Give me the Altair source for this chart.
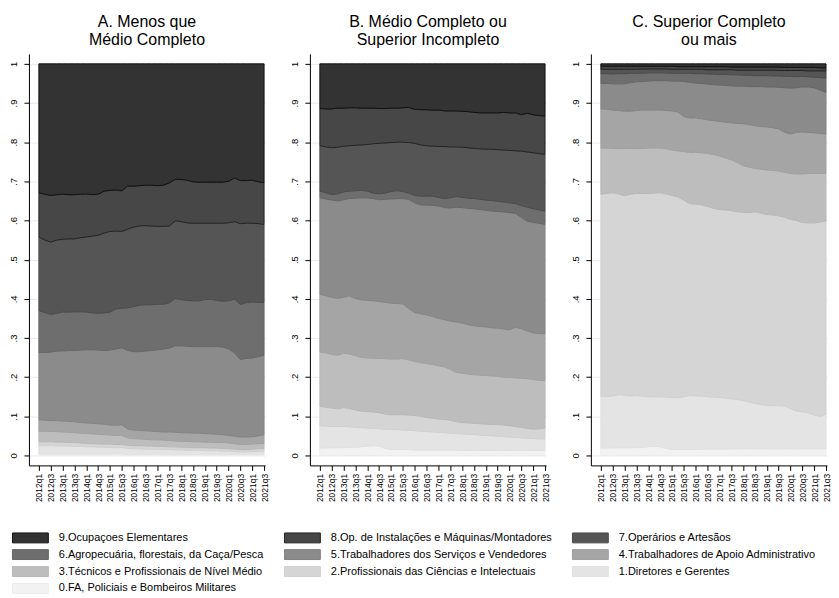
import altair as alt
import pandas as pd

quarters = ["2012q1","2012q2","2012q3","2012q4","2013q1","2013q2","2013q3","2013q4",
            "2014q1","2014q2","2014q3","2014q4","2015q1","2015q2","2015q3","2015q4",
            "2016q1","2016q2","2016q3","2016q4","2017q1","2017q2","2017q3","2017q4",
            "2018q1","2018q2","2018q3","2018q4","2019q1","2019q2","2019q3","2019q4",
            "2020q1","2020q2","2020q3","2020q4","2021q1","2021q2","2021q3"]
tick_index = [0, 2, 4, 6, 8, 10, 12, 14, 16, 18, 20, 22, 24, 26, 28, 30, 32, 34, 36, 38]

cats = ["0.FA, Policiais e Bombeiros Militares",
        "1.Diretores e Gerentes",
        "2.Profissionais das Ciências e Intelectuais",
        "3.Técnicos e Profissionais de Nível Médio",
        "4.Trabalhadores de Apoio Administrativo",
        "5.Trabalhadores dos Serviços e Vendedores",
        "6.Agropecuária, florestais, da Caça/Pesca",
        "7.Operários e Artesãos",
        "8.Op. de Instalações e Máquinas/Montadores",
        "9.Ocupaçoes Elementares"]

titles = ["A. Menos que|Médio Completo",
          "B. Médio Completo ou|Superior Incompleto",
          "C. Superior Completo|ou mais"]

# upper boundary (cumulative share) of each category, categories 0..8 (9 tops at 1)
top0_A = [.004,.004,.004,.004,.004,.004,.004,.004,.004,.004,.004,.004,.004,.004,.004,.003,.003,.003,.003,.003,
          .003,.003,.003,.003,.003,.003,.003,.003,.003,.003,.003,.003,.003,.003,.003,.003,.003,.003,.003]
top1_A = [.025,.025,.025,.024,.024,.024,.023,.023,.022,.022,.021,.021,.020,.020,.020,.018,.017,.017,.016,.016,
          .015,.015,.015,.014,.014,.013,.013,.013,.012,.012,.012,.011,.011,.010,.009,.009,.010,.010,.011]
top2_A = [.035,.035,.035,.034,.034,.033,.033,.032,.031,.030,.030,.029,.029,.028,.028,.026,.025,.025,.024,.024,
          .023,.023,.022,.022,.021,.021,.020,.020,.020,.019,.019,.018,.017,.016,.015,.015,.016,.017,.018]
top3_A = [.062,.062,.061,.061,.060,.059,.058,.057,.056,.055,.054,.053,.052,.051,.051,.045,.043,.042,.041,.040,
          .040,.039,.038,.037,.036,.036,.035,.035,.034,.034,.033,.033,.032,.030,.028,.028,.029,.030,.031]
top4_A = [.091,.090,.089,.089,.088,.087,.086,.084,.083,.082,.081,.080,.078,.077,.078,.067,.065,.064,.063,.062,
          .061,.060,.060,.059,.058,.058,.057,.057,.056,.055,.054,.053,.051,.049,.047,.047,.048,.050,.053]
top5_A = [.263,.263,.264,.266,.267,.268,.268,.269,.270,.270,.269,.268,.269,.272,.275,.268,.265,.265,.267,.268,
          .270,.272,.274,.280,.280,.279,.278,.278,.278,.278,.278,.277,.272,.262,.245,.248,.249,.252,.256]
top6_A = [.370,.365,.360,.363,.366,.366,.367,.367,.366,.364,.363,.364,.366,.374,.376,.377,.380,.384,.385,.385,
          .386,.386,.390,.401,.398,.396,.395,.395,.398,.399,.396,.394,.395,.399,.386,.390,.392,.391,.391]
top7_A = [.558,.550,.545,.550,.552,.553,.553,.556,.558,.560,.562,.568,.572,.573,.572,.578,.583,.586,.587,.586,
          .585,.585,.586,.599,.597,.594,.593,.593,.593,.593,.593,.593,.594,.597,.592,.593,.593,.592,.590]
top8_A = [.671,.667,.664,.666,.667,.666,.666,.667,.668,.666,.667,.675,.677,.678,.676,.688,.688,.689,.690,.690,
          .689,.690,.696,.705,.705,.703,.699,.698,.698,.698,.698,.698,.700,.709,.702,.702,.703,.699,.697]

top0_B = [.019,.019,.020,.020,.020,.021,.021,.022,.023,.025,.024,.018,.015,.015,.015,.015,.014,.014,.014,.014,
          .014,.014,.014,.013,.013,.013,.013,.013,.013,.013,.013,.013,.013,.013,.013,.013,.013,.013,.013]
top1_B = [.076,.075,.074,.074,.074,.073,.072,.071,.070,.069,.068,.067,.066,.066,.065,.064,.063,.062,.061,.060,
          .059,.058,.057,.056,.055,.054,.053,.052,.051,.050,.049,.048,.047,.046,.045,.044,.043,.042,.042]
top2_B = [.125,.123,.121,.119,.122,.120,.116,.113,.112,.111,.109,.106,.104,.104,.104,.103,.102,.100,.097,.095,
          .093,.092,.090,.086,.084,.083,.082,.081,.080,.079,.079,.078,.076,.074,.072,.069,.067,.068,.070]
top3_B = [.264,.262,.258,.256,.261,.259,.255,.250,.249,.248,.248,.247,.246,.246,.247,.244,.240,.237,.235,.232,
          .229,.226,.220,.212,.210,.208,.206,.205,.204,.203,.202,.200,.199,.198,.197,.196,.194,.192,.191]
top4_B = [.411,.408,.404,.401,.404,.407,.401,.397,.396,.395,.393,.391,.389,.388,.387,.375,.365,.362,.359,.355,
          .350,.347,.343,.341,.338,.334,.331,.329,.328,.326,.325,.323,.321,.327,.324,.318,.313,.311,.311]
top5_B = [.658,.655,.652,.650,.653,.656,.657,.658,.658,.656,.653,.654,.655,.656,.656,.654,.645,.640,.639,.639,
          .637,.633,.632,.634,.633,.631,.630,.628,.626,.624,.623,.622,.620,.618,.608,.598,.595,.593,.590]
top6_B = [.675,.671,.666,.668,.673,.675,.676,.677,.675,.670,.668,.670,.674,.676,.674,.670,.664,.662,.662,.662,
          .659,.656,.658,.661,.659,.657,.656,.654,.652,.651,.649,.647,.645,.643,.638,.634,.630,.627,.624]
top7_B = [.791,.788,.786,.787,.790,.791,.792,.793,.794,.796,.797,.798,.799,.800,.800,.799,.797,.793,.791,.790,
          .789,.789,.788,.788,.787,.786,.784,.783,.782,.782,.781,.780,.779,.778,.777,.775,.773,.771,.769]
top8_B = [.886,.885,.885,.887,.887,.888,.888,.887,.887,.887,.886,.886,.887,.887,.888,.889,.884,.883,.883,.882,
          .882,.880,.880,.880,.879,.878,.876,.875,.875,.875,.875,.876,.875,.875,.870,.874,.870,.868,.867]

top0_C = [.019,.019,.019,.020,.020,.020,.020,.021,.022,.023,.022,.018,.015,.015,.015,.015,.015,.016,.016,.016,
          .016,.016,.017,.017,.017,.017,.017,.017,.017,.017,.017,.017,.017,.017,.017,.017,.017,.017,.017]
top1_C = [.151,.150,.152,.155,.154,.152,.153,.151,.150,.150,.150,.149,.148,.147,.150,.153,.152,.151,.150,.149,
          .148,.147,.144,.143,.140,.137,.133,.130,.128,.127,.127,.126,.120,.113,.111,.109,.103,.100,.105]
top2_C = [.667,.669,.671,.668,.663,.667,.669,.669,.669,.670,.671,.668,.664,.660,.652,.643,.642,.640,.636,.631,
          .628,.627,.625,.622,.621,.620,.622,.619,.615,.614,.612,.608,.603,.600,.595,.594,.594,.596,.599]
top3_C = [.785,.785,.784,.784,.784,.784,.784,.784,.785,.785,.785,.783,.780,.778,.776,.774,.774,.773,.771,.768,
          .765,.760,.755,.748,.740,.736,.733,.731,.729,.728,.726,.723,.720,.719,.719,.720,.720,.720,.720]
top4_C = [.885,.884,.882,.881,.879,.879,.881,.882,.882,.882,.882,.881,.880,.877,.865,.862,.862,.860,.857,.855,
          .853,.851,.849,.848,.847,.845,.842,.840,.839,.837,.834,.825,.821,.825,.826,.825,.824,.822,.821]
top5_C = [.950,.950,.949,.949,.949,.952,.954,.955,.956,.957,.957,.957,.956,.956,.955,.953,.951,.950,.948,.947,
          .946,.945,.944,.943,.943,.942,.942,.942,.941,.941,.940,.939,.938,.939,.941,.941,.939,.933,.927]
top6_C = [.975,.975,.974,.975,.975,.976,.976,.976,.977,.977,.977,.977,.976,.976,.976,.976,.975,.975,.974,.974,
          .973,.973,.972,.972,.971,.971,.970,.970,.970,.969,.969,.968,.968,.967,.968,.967,.966,.965,.964]
top7_C = [.986,.986,.986,.986,.986,.986,.986,.987,.987,.987,.987,.987,.986,.986,.986,.986,.986,.986,.985,.985,
          .985,.985,.985,.984,.984,.984,.984,.984,.984,.984,.983,.983,.983,.983,.983,.982,.982,.982,.982]
top8_C = [.994,.994,.994,.994,.994,.994,.994,.994,.994,.994,.994,.994,.994,.993,.993,.993,.993,.993,.993,.993,
          .993,.993,.992,.992,.992,.992,.992,.992,.992,.992,.992,.991,.991,.991,.991,.991,.991,.990,.990]

panels = {
    "A": [top0_A, top1_A, top2_A, top3_A, top4_A, top5_A, top6_A, top7_A, top8_A],
    "B": [top0_B, top1_B, top2_B, top3_B, top4_B, top5_B, top6_B, top7_B, top8_B],
    "C": [top0_C, top1_C, top2_C, top3_C, top4_C, top5_C, top6_C, top7_C, top8_C],
}

legend_order = cats[::-1]
fills = ["#333333", "#474747", "#555555", "#6e6e6e", "#8b8b8b",
         "#a5a5a5", "#bdbdbd", "#d5d5d5", "#e4e4e4", "#f2f2f2"]
strokes = ["#111111", "#222222", "#4a4a4a", "#666666", "#848484",
           "#a0a0a0", "#b8b8b8", "#d0d0d0", "#e0e0e0", "#ececec"]

FONT = "Liberation Sans"

def build_df(key):
    tops = panels[key]
    rows = []
    for ci, cat in enumerate(cats):
        for qi, q in enumerate(quarters):
            lo = 0.0 if ci == 0 else tops[ci - 1][qi]
            hi = 1.0 if ci == 9 else tops[ci][qi]
            rows.append({"qi": qi, "q": q, "cat": cat, "lo": lo, "hi": hi})
    return pd.DataFrame(rows)

quarter_expr = "[" + ",".join("'" + q + "'" for q in quarters) + "][datum.value]"

leg = alt.Legend(title=None, orient="none", legendX=-5, legendY=479, columns=3,
                 direction="horizontal",
                 symbolType="M-3,-0.83H3V0.83H-3Z", symbolSize=144, symbolStrokeWidth=1,
                 labelFont=FONT, labelFontSize=11, labelColor="#000000", labelLimit=0,
                 labelOffset=22, rowPadding=2, columnPadding=18)

PW = 237
STEP = 226 / 38.0

def panel(key, title):
    df = build_df(key)
    base = alt.Chart(df).mark_area(strokeWidth=1, opacity=1).encode(
        x=alt.X("qi:Q",
                scale=alt.Scale(domain=[-10 / STEP, 38 + 1 / STEP], nice=False, zero=False),
                axis=alt.Axis(title=None, values=tick_index, labelExpr=quarter_expr,
                              labelAngle=270, labelAlign="right", labelBaseline="middle",
                              labelFontSize=8.5, labelPadding=3, tickSize=5, grid=False,
                              labelOverlap=False, labelFlush=False)),
        y=alt.Y("hi:Q", scale=alt.Scale(domain=[-0.0254, 1.0254], nice=False, zero=False),
                axis=alt.Axis(title=None, values=[0, .1, .2, .3, .4, .5, .6, .7, .8, .9, 1],
                              labelExpr="datum.value == 0 ? '0' : (datum.value >= 0.99 ? '1' : '.' + round(datum.value*10))",
                              labelAngle=270, labelAlign="center", labelBaseline="bottom",
                              labelFontSize=9.5, labelPadding=5, tickSize=5,
                              labelOverlap=False, labelFlush=False,
                              grid=True, gridColor="#e3ecee", gridWidth=1)),
        y2="lo:Q",
        fill=alt.Fill("cat:N", scale=alt.Scale(domain=legend_order, range=fills), legend=leg),
        stroke=alt.Stroke("cat:N", scale=alt.Scale(domain=legend_order, range=strokes), legend=leg),
    )
    layers = [base.transform_filter(alt.datum.cat == c) for c in cats]
    return alt.layer(*layers).properties(
        width=PW, height=413,
        title=alt.Title(title.split("|"), fontSize=16, font=FONT, fontWeight="normal",
                        color="#000000", anchor="middle", frame="group", offset=6, lineHeight=18))

chart = alt.hconcat(
    panel("A", titles[0]), panel("B", titles[1]), panel("C", titles[2]), spacing=20
).resolve_scale(fill="shared", stroke="shared").properties(
    padding={"left": 0, "top": 5, "right": 0, "bottom": 0}
).configure_view(stroke=None).configure_axis(
    domainColor="#000000", tickColor="#000000", labelColor="#000000", labelFont=FONT,
    domainWidth=1, tickWidth=1
)

chart.save("out.html", embed_options={"renderer": "svg", "actions": False})
